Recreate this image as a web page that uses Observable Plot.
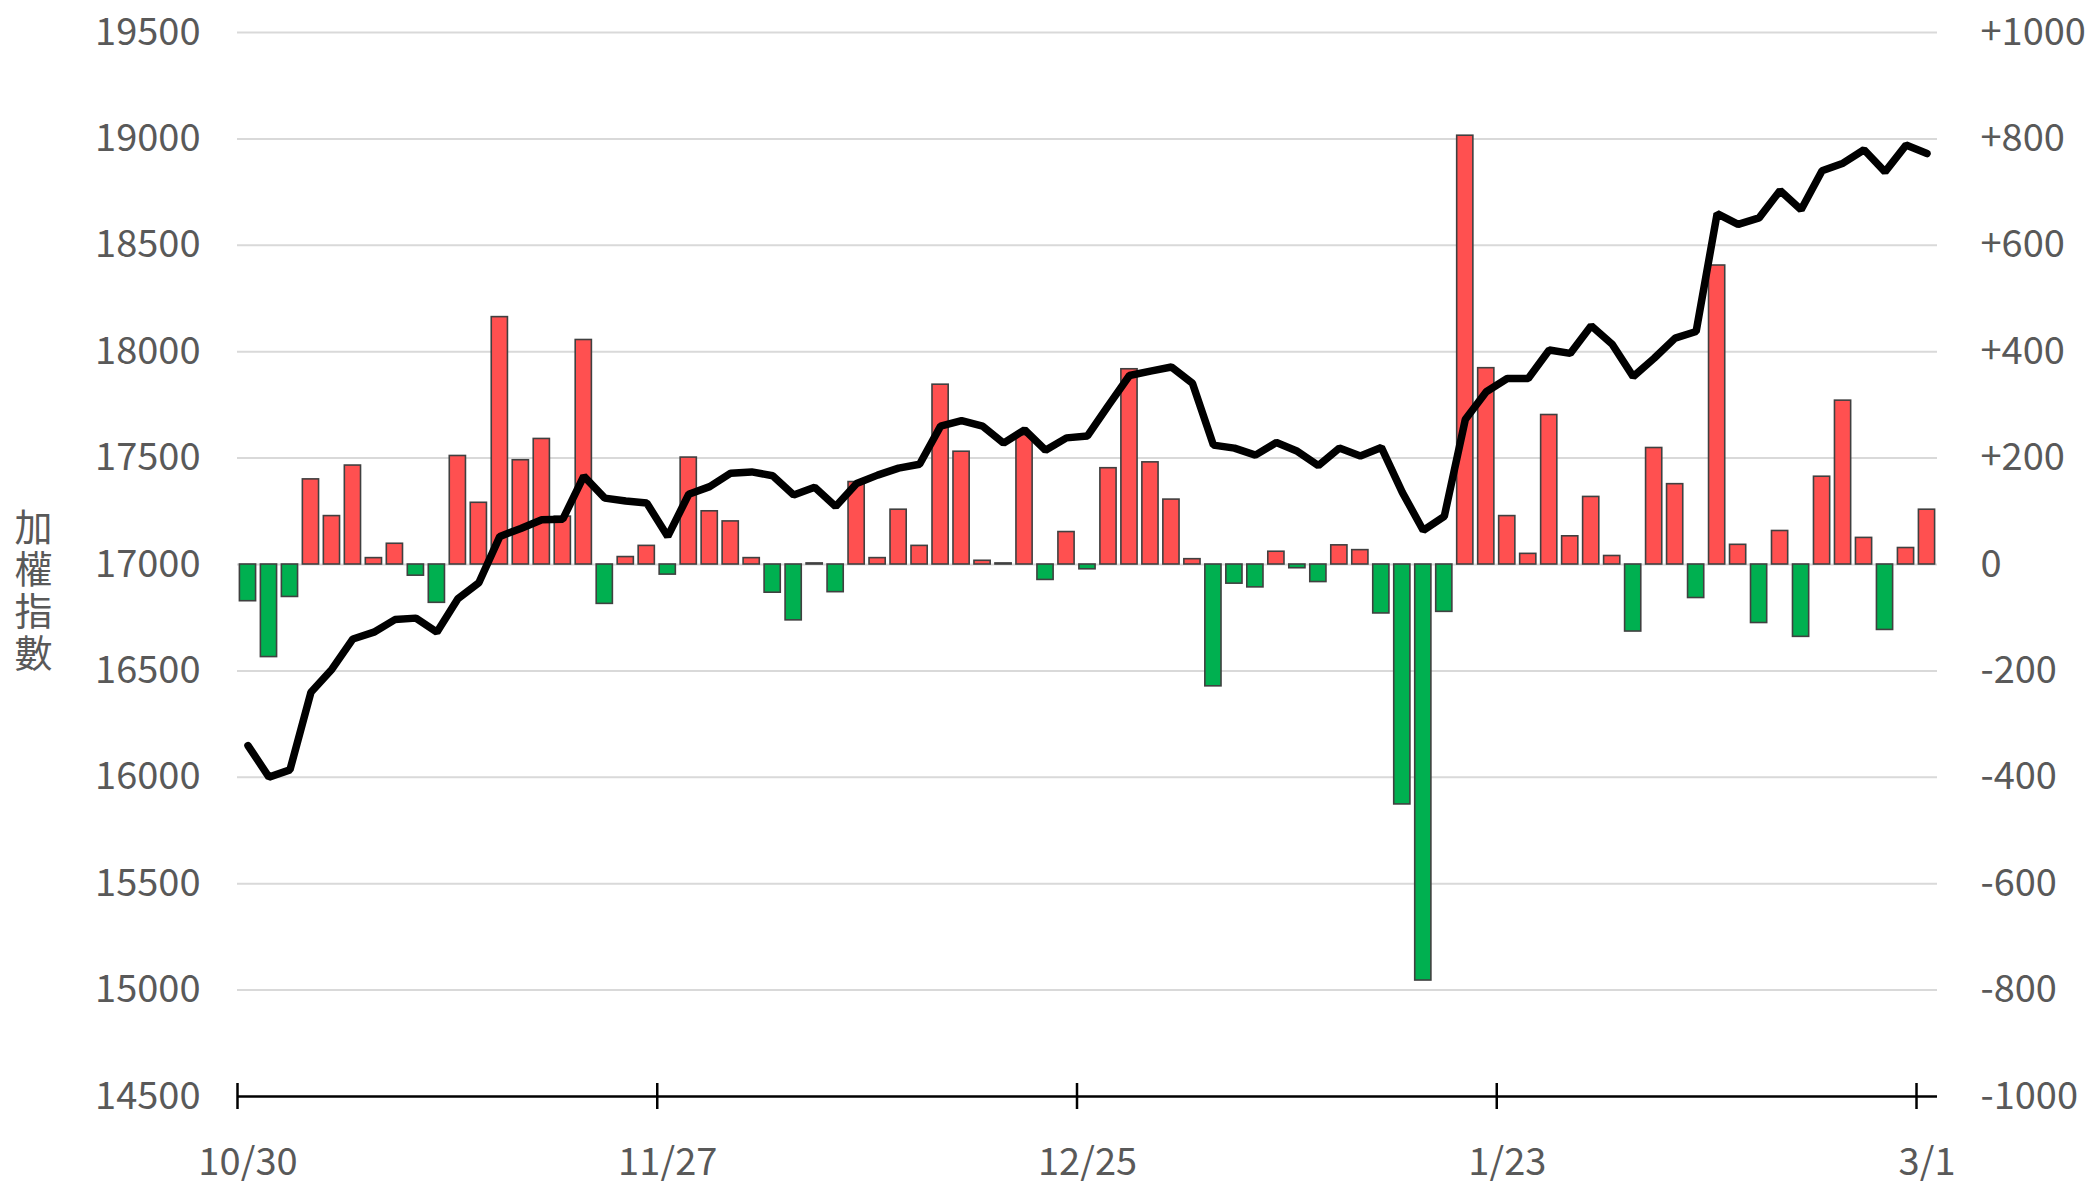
<!DOCTYPE html>
<html>
<head>
<meta charset="utf-8">
<script src="https://cdn.jsdelivr.net/npm/d3@7"></script>
<script src="https://cdn.jsdelivr.net/npm/@observablehq/plot@0.6"></script>
<style>
  html, body { margin: 0; padding: 0; background: #ffffff; overflow: hidden; }
  #chart { width: 2090px; height: 1181px; }
</style>
</head>
<body>
<div id="chart"></div>
<script>
// Trading days (categories)
const dates = ["10/30","10/31","11/1","11/2","11/3","11/6","11/7","11/8","11/9","11/10",
  "11/13","11/14","11/15","11/16","11/17","11/20","11/21","11/22","11/23","11/24",
  "11/27","11/28","11/29","11/30","12/1","12/4","12/5","12/6","12/7","12/8",
  "12/11","12/12","12/13","12/14","12/15","12/18","12/19","12/20","12/21","12/22",
  "12/25","12/26","12/27","12/28","12/29","1/2","1/3","1/4","1/5","1/8",
  "1/9","1/10","1/11","1/12","1/15","1/16","1/17","1/18","1/19","1/22",
  "1/23","1/24","1/25","1/26","1/29","1/30","1/31","2/1","2/2","2/5",
  "2/15","2/16","2/19","2/20","2/21","2/22","2/23","2/26","2/27","2/29","3/1"];

// Bars (right axis)
const netBuy = [-69,-174,-61,160,91,186,12,39,-21,-72,
  204,116,465,196,236,90,422,-74,14,35,
  -19,201,100,81,12,-53,-105,2,-52,155,
  12,103,35,338,212,7,2,243,-29,61,
  -9,181,367,192,122,10,-229,-36,-43,24,
  -7,-33,36,27,-92,-451,-782,-89,806,369,
  91,20,281,53,127,16,-126,219,151,-63,
  562,37,-110,63,-136,165,308,50,-123,31,103];

// Line (left axis, 加權指數)
const taiex = [16149,16001,16035,16400,16508,16650,16682,16741,16748,16682,
  16839,16914,17132,17169,17210,17213,17415,17312,17298,17289,
  17132,17330,17366,17429,17435,17417,17327,17363,17273,17381,
  17420,17453,17471,17650,17676,17650,17570,17633,17537,17595,
  17604,17748,17888,17909,17928,17852,17561,17547,17514,17573,
  17532,17465,17547,17510,17550,17339,17160,17226,17681,17812,
  17874,17874,18008,17992,18122,18035,17883,17969,18064,18095,
  18649,18598,18629,18757,18667,18850,18886,18949,18845,18971,18931];

const leftTicks = [14500,15000,15500,16000,16500,17000,17500,18000,18500,19000,19500];
const rightTicks = [-1000,-800,-600,-400,-200,0,200,400,600,800,1000];
const xTickDates = ["10/30","11/27","12/25","1/23","3/1"];
const yLabel = "加權指數";

// right axis maps onto left axis: 0 ↔ 17000, ±1000 ↔ 17000 ± 2500
const rightZero = 17000, rightRatio = 2.5;
const toLeft = v => rightZero + v * rightRatio;

const data = dates.map((d, i) => ({date: d, net: netBuy[i], idx: taiex[i]}));

const W = 2090, H = 1181;
const mL = 237, mR = 153, mT = 32, mB = 85;
const step = (W - mL - mR) / dates.length;
const grey = "#595959";
const font = "'Noto Sans CJK TC', 'Noto Sans', sans-serif";

const chart = Plot.plot({
  width: W,
  height: H,
  marginLeft: mL,
  marginRight: mR,
  marginTop: mT,
  marginBottom: mB,
  style: {fontFamily: font, fontSize: "38px", background: "#ffffff", color: grey},
  x: {type: "band", domain: dates, padding: 0, axis: null},
  y: {domain: [14500, 19500], axis: null},
  marks: [
    Plot.ruleY(leftTicks.filter(d => d > 14500), {stroke: "#d9d9d9", strokeWidth: 2}),
    Plot.barY(data, {
      x: "date",
      y1: () => toLeft(0),
      y2: d => toLeft(d.net),
      fill: d => d.net >= 0 ? "#ff5050" : "#00b050",
      stroke: "#404040",
      strokeWidth: 1.6,
      insetLeft: 2.4,
      insetRight: 2.4
    }),
    Plot.ruleY([14500], {stroke: "#000000", strokeWidth: 2.5}),
    Plot.ruleX(xTickDates, {
      x: d => d, y1: 14500, y2: 14500,
      insetTop: -13, insetBottom: -13,
      dx: -step / 2, stroke: "#000000", strokeWidth: 2.5
    }),
    Plot.line(data, {
      x: "date", y: "idx", stroke: "#000000", strokeWidth: 7.5,
      strokeLinejoin: "miter", strokeLinecap: "round"
    }),
    Plot.axisY(leftTicks, {
      anchor: "left", tickSize: 0, tickPadding: 37, label: null,
      fontSize: 38, fill: grey, tickFormat: d => String(d)
    }),
    Plot.text(rightTicks, {
      y: d => toLeft(d),
      text: d => d > 0 ? "+" + d : String(d),
      frameAnchor: "right", textAnchor: "start", dx: 43,
      fontSize: 38, fill: grey
    }),
    Plot.text(xTickDates, {
      x: d => d, y: 14500, text: d => d,
      dy: 66, fontSize: 38, fill: grey
    }),
    Plot.text([yLabel], {
      text: d => d.split("").join("\n"),
      frameAnchor: "left", textAnchor: "middle", dx: -204, dy: 26,
      lineHeight: 1.1, fontSize: 38, fill: grey
    })
  ]
});

document.getElementById("chart").appendChild(chart);
</script>
</body>
</html>
